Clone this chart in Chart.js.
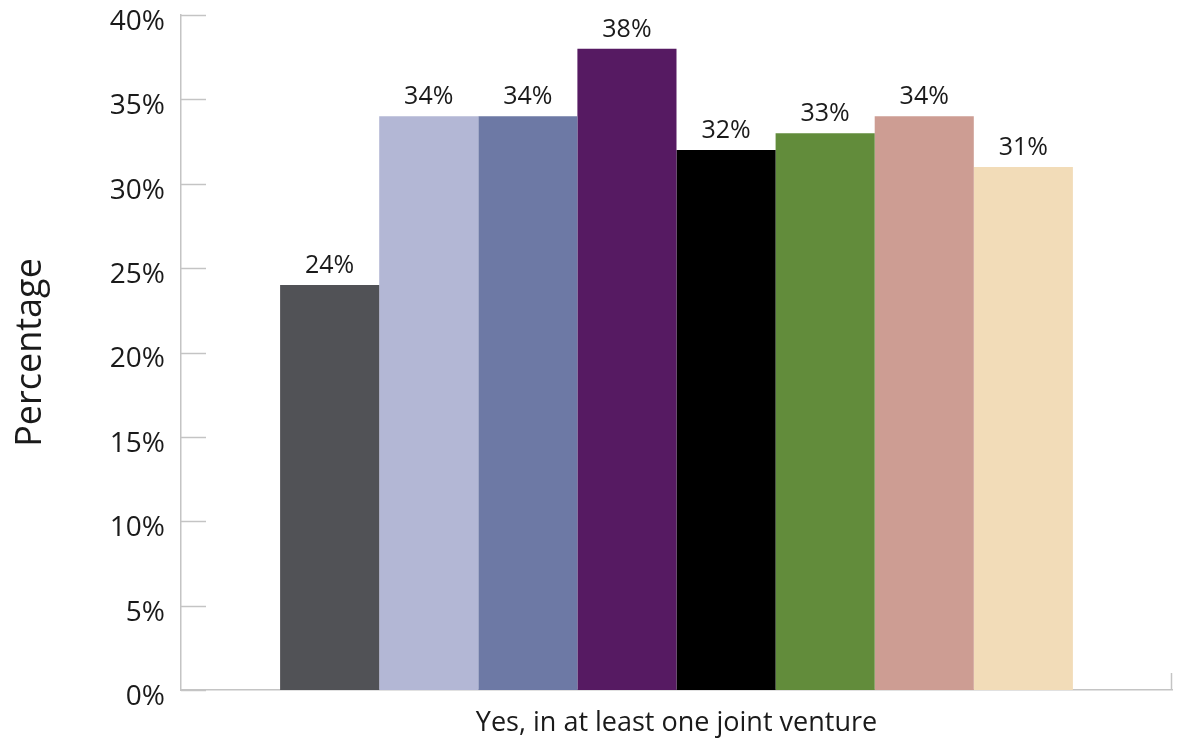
<!DOCTYPE html>
<html>
<head>
<meta charset="utf-8">
<script src="https://cdn.jsdelivr.net/npm/chart.js@4"></script>
<style>
  html, body { margin: 0; padding: 0; background: #ffffff; }
  #wrap { width: 1177px; height: 742px; position: relative; }
</style>
</head>
<body>
<div id="wrap"><canvas id="c" width="1177" height="742"></canvas></div>
<script>
const categories = ["Yes, in at least one joint venture"];
const seriesValues = [24, 34, 34, 38, 32, 33, 34, 31];
const seriesColors = ["#515256", "#b3b7d5", "#6d79a5", "#561a62", "#000000", "#628c3b", "#cd9d93", "#f2dcb8"];
const yTicks = [0, 5, 10, 15, 20, 25, 30, 35, 40];
const yTitle = "Percentage";

const FONT = "'Open Sans', Lato, sans-serif";
const AXIS = "#c4c4c4";

const datasets = seriesValues.map((v, i) => ({
  label: "Series " + (i + 1),
  data: [v],
  backgroundColor: seriesColors[i],
  borderWidth: 0,
  categoryPercentage: 0.8,
  barPercentage: 1.0
}));

const decor = {
  id: "decor",
  afterDatasetsDraw(chart) {
    const ctx = chart.ctx;
    const y = chart.scales.y;
    const area = chart.chartArea;
    ctx.save();
    ctx.strokeStyle = AXIS;
    ctx.lineWidth = 1.5;
    yTicks.forEach(t => {
      const py = Math.round(y.getPixelForValue(t)) + 0.5;
      ctx.beginPath();
      ctx.moveTo(area.left, py);
      ctx.lineTo(area.left + 25, py);
      ctx.stroke();
    });
    ctx.beginPath();
    ctx.moveTo(area.right - 0.5, area.bottom);
    ctx.lineTo(area.right - 0.5, area.bottom - 17);
    ctx.stroke();
    ctx.fillStyle = "#1a1a1a";
    ctx.font = "25px " + FONT;
    ctx.textAlign = "center";
    ctx.textBaseline = "alphabetic";
    chart.data.datasets.forEach((ds, i) => {
      const meta = chart.getDatasetMeta(i);
      meta.data.forEach((bar, j) => {
        ctx.fillText(ds.data[j] + "%", bar.x, bar.y - 12);
      });
    });
    ctx.restore();
  }
};

new Chart(document.getElementById("c"), {
  type: "bar",
  data: { labels: categories, datasets },
  options: {
    responsive: false,
    animation: false,
    layout: { padding: { top: 15, right: 5, left: 0, bottom: 0 } },
    plugins: { legend: { display: false }, tooltip: { enabled: false } },
    scales: {
      x: {
        grid: { display: false, drawTicks: false },
        border: { display: true, color: AXIS, width: 1.5 },
        ticks: { color: "#1a1a1a", font: { family: FONT, size: 27 }, padding: 17 },
        afterFit(s) { s.height = 52; s.paddingLeft = 0; s.paddingRight = 0; }
      },
      y: {
        min: 0, max: 40,
        grid: { display: false, drawTicks: false },
        border: { display: true, color: AXIS, width: 1.5 },
        afterBuildTicks(s) { s.ticks = yTicks.map(v => ({ value: v })); },
        ticks: {
          color: "#1a1a1a",
          font: { family: FONT, size: 28 },
          padding: 16,
          labelOffset: 7,
          callback: v => v + "%"
        },
        title: {
          display: true,
          text: yTitle,
          color: "#1a1a1a",
          font: { family: FONT, size: 36 },
          padding: { top: 9, bottom: 0 }
        },
        afterFit(s) { s.width = 181; s.paddingTop = 0; s.paddingBottom = 0; }
      }
    }
  },
  plugins: [decor]
});
</script>
</body>
</html>
